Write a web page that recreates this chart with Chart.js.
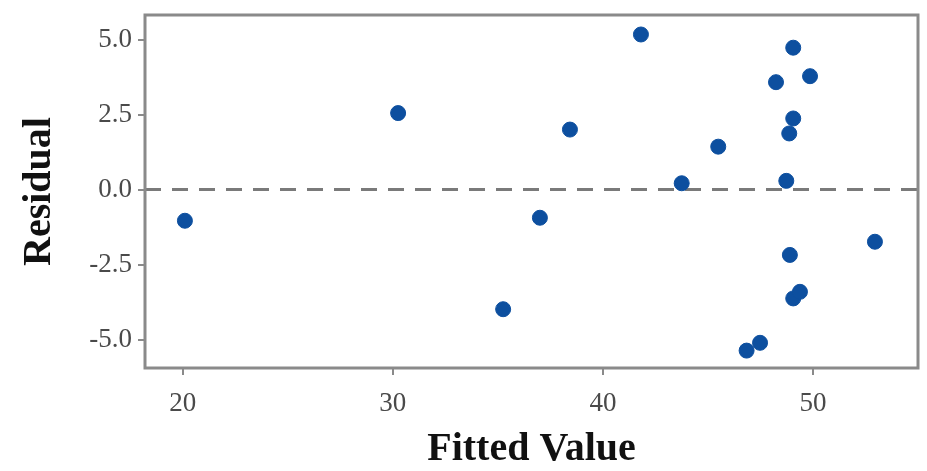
<!DOCTYPE html>
<html>
<head>
<meta charset="utf-8">
<script src="https://cdn.jsdelivr.net/npm/chart.js@4/dist/chart.umd.min.js"></script>
<style>
  html, body { margin: 0; padding: 0; background: #fff; }
  #wrap { width: 927px; height: 471px; }
</style>
</head>
<body>
<div id="wrap"><canvas id="residChart"></canvas></div>
<script>
// fitted values and residuals
const fittedValues = [20.1, 30.25, 35.25, 37.0, 38.43, 41.81, 43.75, 45.49, 46.84, 47.48,
                      48.24, 48.73, 48.87, 48.9, 49.06, 49.06, 49.06, 49.38, 49.86, 52.95];
const residuals    = [-1.04, 2.55, -3.99, -0.94, 2.0, 5.17, 0.21, 1.43, -5.37, -5.11,
                      3.58, 0.29, 1.87, -2.18, 4.73, 2.37, -3.63, -3.41, 3.78, -1.74];

const xTicks = [20, 30, 40, 50];
const yTicks = [-5, -2.5, 0, 2.5, 5];
const xRange = [18.2, 55.0];
const yRange = [-5.95, 5.82];
const refLine = 0;

const frameColor = '#8a8a8a';
const serif = "'Liberation Serif', 'DejaVu Serif', serif";

const points = fittedValues.map((x, i) => ({ x: x, y: residuals[i] }));

// box round the plot + dashed zero line
const framePlugin = {
    id: 'frame',
    beforeDatasetsDraw(chart) {
        const { ctx, chartArea: a, scales } = chart;
        const y0 = scales.y.getPixelForValue(refLine);
        ctx.save();
        ctx.strokeStyle = '#7a7a7a';
        ctx.lineWidth = 3;
        ctx.setLineDash([16, 11]);
        ctx.beginPath();
        ctx.moveTo(a.left, y0);
        ctx.lineTo(a.right, y0);
        ctx.stroke();
        ctx.setLineDash([]);
        ctx.strokeStyle = frameColor;
        ctx.lineWidth = 3;
        ctx.strokeRect(a.left, a.top, a.right - a.left, a.bottom - a.top);
        ctx.restore();
    }
};

const ctx = document.getElementById('residChart').getContext('2d');
new Chart(ctx, {
    type: 'scatter',
    data: {
        datasets: [{
            label: 'Residual',
            data: points,
            backgroundColor: '#0d4f9f',
            borderColor: '#0d4f9f',
            pointRadius: 7.5,
            pointHoverRadius: 7.5
        }]
    },
    options: {
        responsive: true,
        maintainAspectRatio: false,
        animation: false,
        layout: { padding: { top: 15, right: 9, left: 0, bottom: 0 } },
        plugins: {
            legend: { display: false },
            tooltip: { enabled: false }
        },
        scales: {
            x: {
                type: 'linear',
                min: xRange[0],
                max: xRange[1],
                afterBuildTicks: scale => { scale.ticks = xTicks.map(v => ({ value: v })); },
                afterFit: scale => {
                    scale.height = 103;
                    scale.paddingLeft = 0;
                    scale.paddingRight = 0;
                },
                border: { display: false },
                grid: { drawOnChartArea: false, drawTicks: true, tickLength: 7, color: frameColor, lineWidth: 2 },
                ticks: {
                    color: '#4a4a4a',
                    padding: 13,
                    maxRotation: 0,
                    font: { family: serif, size: 27 }
                },
                title: {
                    display: true,
                    text: 'Fitted Value',
                    color: '#111',
                    padding: { top: 0, bottom: 1 },
                    font: { family: serif, size: 40, weight: 'bold', lineHeight: 1 }
                }
            },
            y: {
                type: 'linear',
                min: yRange[0],
                max: yRange[1],
                afterBuildTicks: scale => { scale.ticks = yTicks.map(v => ({ value: v })); },
                afterFit: scale => {
                    scale.width = 145;
                    scale.paddingTop = 0;
                    scale.paddingBottom = 0;
                },
                border: { display: false },
                grid: { drawOnChartArea: false, drawTicks: true, tickLength: 7, color: frameColor, lineWidth: 2 },
                ticks: {
                    color: '#4a4a4a',
                    padding: 6,
                    font: { family: serif, size: 27 },
                    callback: v => v.toFixed(1)
                },
                title: {
                    display: true,
                    text: 'Residual',
                    color: '#111',
                    padding: { top: 20, bottom: 0 },
                    font: { family: serif, size: 40, weight: 'bold', lineHeight: 1 }
                }
            }
        }
    },
    plugins: [framePlugin]
});
</script>
</body>
</html>
